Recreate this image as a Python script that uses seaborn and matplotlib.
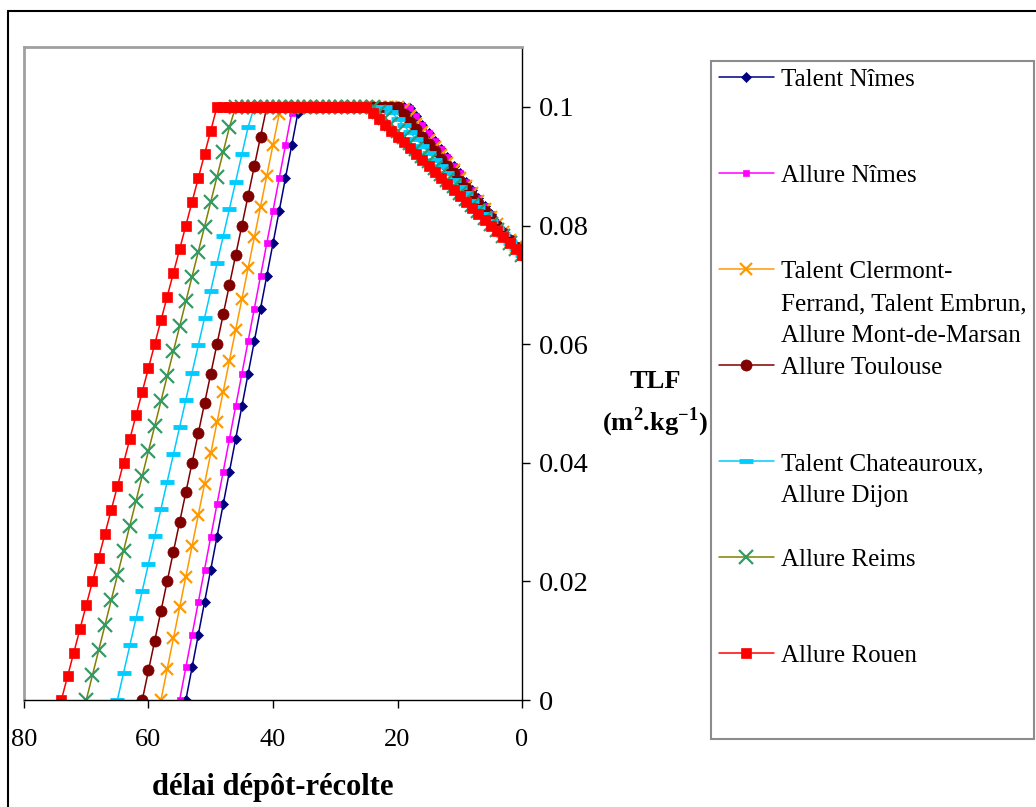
import matplotlib
matplotlib.use("Agg")
import matplotlib.pyplot as plt
from matplotlib.lines import Line2D
import pandas as pd
import seaborn as sns

# TLF (m2.kg-1) for each harvest delay, listed from day 0 upward (one value per day)
talent_nimes = [
    0.0750, 0.0764, 0.0778, 0.0791, 0.0805, 0.0819, 0.0833, 0.0846, 0.0860, 0.0874,
    0.0888, 0.0901, 0.0915, 0.0929, 0.0943, 0.0956, 0.0970, 0.0984, 0.0998,
    0.1, 0.1, 0.1, 0.1, 0.1, 0.1, 0.1, 0.1, 0.1, 0.1, 0.1, 0.1, 0.1, 0.1, 0.1, 0.1, 0.1,
    0.0990, 0.0935, 0.0880, 0.0825, 0.0770, 0.0715, 0.0660, 0.0605, 0.0550, 0.0495,
    0.0440, 0.0385, 0.0330, 0.0275, 0.0220, 0.0165, 0.0110, 0.0055, 0.0,
]
allure_nimes = [
    0.0750, 0.0764, 0.0778, 0.0791, 0.0805, 0.0819, 0.0833, 0.0846, 0.0860, 0.0874,
    0.0888, 0.0901, 0.0915, 0.0929, 0.0943, 0.0956, 0.0970, 0.0984, 0.0998,
    0.1, 0.1, 0.1, 0.1, 0.1, 0.1, 0.1, 0.1, 0.1, 0.1, 0.1, 0.1, 0.1, 0.1, 0.1, 0.1, 0.1, 0.1,
    0.0990, 0.0935, 0.0880, 0.0825, 0.0770, 0.0715, 0.0660, 0.0605, 0.0550, 0.0495,
    0.0440, 0.0385, 0.0330, 0.0275, 0.0220, 0.0165, 0.0110, 0.0055, 0.0,
]
talent_clermont = [
    0.0750, 0.0763, 0.0776, 0.0789, 0.0802, 0.0815, 0.0828, 0.0841, 0.0854, 0.0867,
    0.0880, 0.0893, 0.0906, 0.0919, 0.0932, 0.0945, 0.0958, 0.0971, 0.0984, 0.0997,
    0.1, 0.1, 0.1, 0.1, 0.1, 0.1, 0.1, 0.1, 0.1, 0.1, 0.1, 0.1, 0.1, 0.1, 0.1, 0.1, 0.1, 0.1, 0.1,
    0.0988, 0.0936, 0.0884, 0.0832, 0.0780, 0.0728, 0.0676, 0.0624, 0.0572, 0.0520,
    0.0468, 0.0416, 0.0364, 0.0312, 0.0260, 0.0208, 0.0156, 0.0104, 0.0052, 0.0,
]
allure_toulouse = [
    0.0750, 0.0763, 0.0775, 0.0788, 0.0800, 0.0813, 0.0825, 0.0838, 0.0850, 0.0863,
    0.0875, 0.0888, 0.0900, 0.0913, 0.0925, 0.0938, 0.0950, 0.0963, 0.0975, 0.0988, 0.1000,
    0.1, 0.1, 0.1, 0.1, 0.1, 0.1, 0.1, 0.1, 0.1, 0.1, 0.1, 0.1, 0.1, 0.1, 0.1, 0.1, 0.1, 0.1,
    0.1, 0.1, 0.1,
    0.095, 0.090, 0.085, 0.080, 0.075, 0.070, 0.065, 0.060, 0.055, 0.050,
    0.045, 0.040, 0.035, 0.030, 0.025, 0.020, 0.015, 0.010, 0.005, 0.0,
]
talent_chateauroux = [
    0.0750, 0.0762, 0.0773, 0.0785, 0.0796, 0.0808, 0.0819, 0.0831, 0.0842, 0.0854,
    0.0865, 0.0877, 0.0888, 0.0900, 0.0911, 0.0923, 0.0934, 0.0946, 0.0957, 0.0969,
    0.0980, 0.0992,
    0.1, 0.1, 0.1, 0.1, 0.1, 0.1, 0.1, 0.1, 0.1, 0.1, 0.1, 0.1, 0.1, 0.1, 0.1, 0.1, 0.1, 0.1,
    0.1, 0.1, 0.1, 0.1,
    0.0966, 0.0920, 0.0874, 0.0828, 0.0782, 0.0736, 0.0690, 0.0644, 0.0598, 0.0552,
    0.0506, 0.0460, 0.0414, 0.0368, 0.0322, 0.0276, 0.0230, 0.0184, 0.0138, 0.0092,
    0.0046, 0.0,
]
allure_reims = [
    0.0750, 0.0761, 0.0771, 0.0782, 0.0792, 0.0803, 0.0813, 0.0824, 0.0834, 0.0845,
    0.0855, 0.0866, 0.0876, 0.0887, 0.0897, 0.0908, 0.0918, 0.0929, 0.0939, 0.0950,
    0.0960, 0.0971, 0.0981, 0.0992,
    0.1, 0.1, 0.1, 0.1, 0.1, 0.1, 0.1, 0.1, 0.1, 0.1, 0.1, 0.1, 0.1, 0.1, 0.1, 0.1, 0.1, 0.1,
    0.1, 0.1, 0.1, 0.1, 0.1,
    0.0966, 0.0924, 0.0882, 0.0840, 0.0798, 0.0756, 0.0714, 0.0672, 0.0630, 0.0588,
    0.0546, 0.0504, 0.0462, 0.0420, 0.0378, 0.0336, 0.0294, 0.0252, 0.0210, 0.0168,
    0.0126, 0.0084, 0.0042, 0.0,
]
allure_rouen = [
    0.075, 0.076, 0.077, 0.078, 0.079, 0.080, 0.081, 0.082, 0.083, 0.084,
    0.085, 0.086, 0.087, 0.088, 0.089, 0.090, 0.091, 0.092, 0.093, 0.094,
    0.095, 0.096, 0.097, 0.098, 0.099,
    0.1, 0.1, 0.1, 0.1, 0.1, 0.1, 0.1, 0.1, 0.1, 0.1, 0.1, 0.1, 0.1, 0.1, 0.1, 0.1, 0.1, 0.1,
    0.1, 0.1, 0.1, 0.1, 0.1, 0.1, 0.1,
    0.096, 0.092, 0.088, 0.084, 0.080, 0.076, 0.072, 0.068, 0.064, 0.060,
    0.056, 0.052, 0.048, 0.044, 0.040, 0.036, 0.032, 0.028, 0.024, 0.020,
    0.016, 0.012, 0.008, 0.004, 0.0,
]

# legend text, one list of lines per series
legend_lines = [
    ["Talent Nîmes"],
    ["Allure Nîmes"],
    ["Talent Clermont-", "Ferrand, Talent Embrun,", "Allure Mont-de-Marsan"],
    ["Allure Toulouse"],
    ["Talent Chateauroux,", "Allure Dijon"],
    ["Allure Reims"],
    ["Allure Rouen"],
]
series_values = [talent_nimes, allure_nimes, talent_clermont, allure_toulouse,
                 talent_chateauroux, allure_reims, allure_rouen]

x_ticks = [80, 60, 40, 20, 0]
y_ticks = [0, 0.02, 0.04, 0.06, 0.08, 0.1]
y_tick_labels = ["0", "0.02", "0.04", "0.06", "0.08", "0.1"]

styles = [
    dict(color="#000080", marker="D", markersize=5.5, markerfacecolor="#000080",
         markeredgecolor="#000080", markeredgewidth=0.5),
    dict(color="#FF00FF", marker="s", markersize=5, markerfacecolor="#FF00FF",
         markeredgecolor="#FF00FF", markeredgewidth=0.5),
    dict(color="#FF9900", marker="x", markersize=9, markeredgecolor="#FF9900",
         markeredgewidth=1.6),
    dict(color="#800000", marker="o", markersize=8, markerfacecolor="#800000",
         markeredgecolor="#800000", markeredgewidth=0.5),
    dict(color="#00CCFF", marker="_", markersize=10, markeredgecolor="#00CCFF",
         markeredgewidth=3.5),
    dict(color="#808000", marker="x", markersize=9.5, markeredgecolor="#339966",
         markeredgewidth=1.6),
    dict(color="#FF0000", marker="s", markersize=7, markerfacecolor="#FF0000",
         markeredgecolor="#FF0000", markeredgewidth=0.5),
]

sns.set_style("white")
plt.rcParams["font.family"] = ["Liberation Serif", "DejaVu Serif"]
plt.rcParams["text.color"] = "black"
plt.rcParams["axes.labelcolor"] = "black"
plt.rcParams["mathtext.fontset"] = "custom"
plt.rcParams["mathtext.rm"] = "Liberation Serif"
plt.rcParams["mathtext.bf"] = "Liberation Serif:bold"

W, H = 1036, 807
fig = plt.figure(figsize=(W / 100, H / 100), dpi=100)
ax = fig.add_axes([24 / W, 1 - 700 / H, (522 - 24) / W, (700 - 47) / H])

handles = []
for lines, values, style in zip(legend_lines, series_values, styles):
    df = pd.DataFrame({"delai": list(range(len(values))), "tlf": values})
    sns.lineplot(data=df, x="delai", y="tlf", ax=ax, linewidth=1.1,
                 label=lines[0], legend=False, **style)
    handles.append(ax.get_lines()[-1])

ax.set_xlim(80, 0)
ax.set_ylim(0, 0.1101)
ax.set_xticks(x_ticks)
ax.set_xticklabels([str(t) for t in x_ticks])
ax.set_yticks(y_ticks)
ax.set_yticklabels(y_tick_labels)
ax.yaxis.tick_right()
ax.tick_params(axis="both", direction="out", length=6, width=1, color="black",
               labelcolor="black")
ax.tick_params(axis="x", bottom=True, top=False, labelsize=19, pad=15)
ax.tick_params(axis="y", right=True, left=False, labelsize=20.5, pad=6)

for side in ("left", "top"):
    ax.spines[side].set_color("#A0A0A0")
    ax.spines[side].set_linewidth(2)
for side in ("right", "bottom"):
    ax.spines[side].set_color("black")
    ax.spines[side].set_linewidth(1)

ax.set_xlabel("délai dépôt-récolte", fontsize=22, fontweight="bold", color="black")
ax.xaxis.set_label_coords(0.5, -0.112)
ax.yaxis.set_label_position("right")
ax.set_ylabel("TLF\n(m$^{\\mathbf{2}}$.kg$^{\\mathbf{-1}}$)", fontsize=19,
              fontweight="bold", rotation=0, ha="center", va="center",
              multialignment="center", linespacing=1.5, color="black")
ax.yaxis.set_label_coords(1.267, 0.452)

# legend: every series takes three rows, its handle sits on the first text line
blank = Line2D([], [], linewidth=0)
leg_handles, leg_labels = [], []
for h, lines in zip(handles, legend_lines):
    rows = lines + [" "] * (3 - len(lines))
    for i, txt in enumerate(rows):
        leg_handles.append(h if i == 0 else blank)
        leg_labels.append(txt)
leg = fig.legend(leg_handles, leg_labels, loc="upper left",
                 bbox_to_anchor=(711 / W, 1 - 61 / H), borderaxespad=0,
                 fontsize=18, frameon=True, fancybox=False, shadow=False,
                 handlelength=2.2, handletextpad=0.3, borderpad=0.3,
                 labelspacing=0.38, labelcolor="black")
leg.get_frame().set_edgecolor("#707070")
leg.get_frame().set_linewidth(1.5)

# outer chart border
fig.add_artist(Line2D([8 / W, 8 / W], [0, 1 - 11 / H], color="black", linewidth=1.5,
                      transform=fig.transFigure))
fig.add_artist(Line2D([8 / W, 1], [1 - 11 / H, 1 - 11 / H], color="black",
                      linewidth=1.5, transform=fig.transFigure))

fig.savefig("out.png", dpi=100)
